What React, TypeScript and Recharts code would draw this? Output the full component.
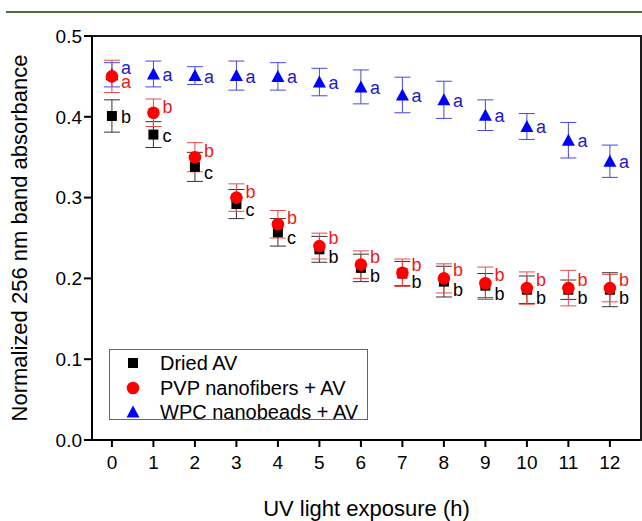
import React from 'react';
import { ScatterChart, Scatter, XAxis, YAxis, ErrorBar, Legend, Label } from 'recharts';

// UV exposure time (h)
const hours = [0, 1, 2, 3, 4, 5, 6, 7, 8, 9, 10, 11, 12];
const yTicks = [0, 0.1, 0.2, 0.3, 0.4, 0.5];
const xDomain = [-0.48, 12.75];

// Dried AV
const driedAV = [0.401, 0.378, 0.338, 0.292, 0.257, 0.236, 0.213, 0.206, 0.196, 0.191, 0.186, 0.186, 0.186];
const driedAVErr = [0.02, 0.016, 0.018, 0.018, 0.017, 0.016, 0.017, 0.015, 0.019, 0.015, 0.017, 0.012, 0.021];
const driedAVLetters = ['b', 'c', 'c', 'c', 'c', 'b', 'b', 'b', 'b', 'b', 'b', 'b', 'b'];

// PVP nanofibers + AV
const pvpAV = [0.45, 0.405, 0.35, 0.3, 0.267, 0.24, 0.217, 0.207, 0.2, 0.194, 0.188, 0.188, 0.188];
const pvpAVErr = [0.02, 0.017, 0.018, 0.017, 0.017, 0.016, 0.017, 0.017, 0.018, 0.02, 0.02, 0.022, 0.017];
const pvpAVLetters = ['a', 'b', 'b', 'b', 'b', 'b', 'b', 'b', 'b', 'b', 'b', 'b', 'b'];

// WPC nanobeads + AV
const wpcAV = [0.452, 0.453, 0.451, 0.451, 0.45, 0.443, 0.437, 0.427, 0.421, 0.402, 0.388, 0.371, 0.345];
const wpcAVErr = [0.015, 0.016, 0.011, 0.018, 0.017, 0.017, 0.021, 0.022, 0.023, 0.019, 0.016, 0.022, 0.02];
const wpcAVLetters = ['a', 'a', 'a', 'a', 'a', 'a', 'a', 'a', 'a', 'a', 'a', 'a', 'a'];

const seriesNames = ['Dried AV', 'PVP nanofibers + AV', 'WPC nanobeads + AV'];

const FONT = '"Liberation Sans", Arial, sans-serif';

const toPoints = (vals: number[], errs: number[], letters: string[]) =>
  hours.map((h, i) => ({ x: h, y: vals[i], err: errs[i], letter: letters[i] }));

type Kind = 'square' | 'circle' | 'triangle';

const drawMarker = (kind: Kind, cx: number, cy: number, fill: string) => {
  if (kind === 'square') return <rect x={cx - 5} y={cy - 5} width={10} height={10} fill={fill} />;
  if (kind === 'circle') return <circle cx={cx} cy={cy} r={6.3} fill={fill} />;
  return <polygon points={`${cx},${cy - 6.5} ${cx - 6.5},${cy + 5.5} ${cx + 6.5},${cy + 5.5}`} fill={fill} />;
};

// marker plus its significance letter
const makeShape = (kind: Kind, fill: string, textFill: string, dy: (x: number) => number) => (props: any) => {
  const { cx, cy, payload } = props;
  if (cx == null || cy == null) return <g />;
  return (
    <g>
      {drawMarker(kind, cx, cy, fill)}
      <text x={cx + 9} y={cy + dy(payload.x)} dominantBaseline="central" fontSize={18} fill={textFill}>
        {payload.letter}
      </text>
    </g>
  );
};

const driedShape = makeShape('square', '#000', '#000', (x) => (x <= 1 ? 1 : x < 5 ? 6 : 8));
const pvpShape = makeShape('circle', '#ff0000', '#f01818', (x) => (x === 0 ? 6 : x < 5 ? -6 : -8));
const wpcShape = makeShape('triangle', '#0000ff', '#1a1acc', (x) => (x === 0 ? -7 : 1));

const legendRows: { kind: Kind; color: string }[] = [
  { kind: 'square', color: '#000' },
  { kind: 'circle', color: '#ff0000' },
  { kind: 'triangle', color: '#0000ff' },
];

const LegendBox = () => (
  <div
    style={{
      boxSizing: 'border-box',
      width: 259,
      height: 71,
      border: '1px solid #666',
      background: '#fff',
      padding: '1px 0 0 0',
      fontFamily: FONT,
      fontSize: 20,
      color: '#000',
    }}
  >
    {seriesNames.map((name, i) => (
      <div key={name} style={{ display: 'flex', alignItems: 'center', height: 24.5 }}>
        <svg width={46} height={24} style={{ flex: 'none' }}>
          {drawMarker(legendRows[i].kind, 23, 12, legendRows[i].color)}
        </svg>
        <span style={{ marginLeft: 4, lineHeight: '24px' }}>{name}</span>
      </div>
    ))}
  </div>
);

const YTitle = (props: any) => {
  const vb = props.viewBox;
  const x = vb.x + 19;
  const y = vb.y + vb.height / 2;
  return (
    <text x={x} y={y} transform={`rotate(-90 ${x} ${y})`} textAnchor="middle" dominantBaseline="central" fontSize={22} fill="#000">
      Normalized 256 nm band absorbance
    </text>
  );
};

const XTitle = (props: any) => {
  const vb = props.viewBox;
  return (
    <text x={vb.x + vb.width / 2} y={vb.y + vb.height - 5} textAnchor="middle" fontSize={22} fill="#000">
      UV light exposure (h)
    </text>
  );
};

export default function App() {
  const dried = toPoints(driedAV, driedAVErr, driedAVLetters);
  const pvp = toPoints(pvpAV, pvpAVErr, pvpAVLetters);
  const wpc = toPoints(wpcAV, wpcAVErr, wpcAVLetters);

  return (
    <div style={{ position: 'absolute', left: 0, top: 0, width: 642, height: 521, background: '#fff', fontFamily: FONT }}>
      <div style={{ position: 'absolute', left: 6, top: 11, width: 636, height: 2, background: '#4b7038' }} />
      <ScatterChart width={642} height={521} margin={{ top: 36, right: 1, bottom: 0, left: 0 }}>
        <XAxis
          type="number"
          dataKey="x"
          domain={xDomain}
          ticks={hours}
          interval={0}
          height={81}
          tickSize={7}
          tickMargin={9}
          tick={{ fill: '#000', fontSize: 19 }}
          axisLine={{ stroke: '#000', strokeWidth: 2 }}
          tickLine={{ stroke: '#000', strokeWidth: 2 }}
        >
          <Label content={XTitle} />
        </XAxis>
        <YAxis
          type="number"
          dataKey="y"
          domain={[0, 0.5]}
          ticks={yTicks}
          interval={0}
          width={92}
          tickSize={8}
          tickFormatter={(v: number) => v.toFixed(1)}
          tick={{ fill: '#000', fontSize: 19 }}
          axisLine={{ stroke: '#000', strokeWidth: 2 }}
          tickLine={{ stroke: '#000', strokeWidth: 2 }}
        >
          <Label content={YTitle} />
        </YAxis>
        <Legend
          layout="vertical"
          align="center"
          verticalAlign="middle"
          content={LegendBox}
          wrapperStyle={{ left: 109, top: 349, width: 259, height: 71 }}
        />
        <Scatter name={seriesNames[2]} data={wpc} shape={wpcShape} isAnimationActive={false}>
          <ErrorBar dataKey="err" direction="y" width={8} stroke="#4646e6" strokeWidth={1} />
        </Scatter>
        <Scatter name={seriesNames[0]} data={dried} shape={driedShape} isAnimationActive={false}>
          <ErrorBar dataKey="err" direction="y" width={8} stroke="#333" strokeWidth={1} />
        </Scatter>
        <Scatter name={seriesNames[1]} data={pvp} shape={pvpShape} isAnimationActive={false}>
          <ErrorBar dataKey="err" direction="y" width={8} stroke="#ea4a4a" strokeWidth={1} />
        </Scatter>
      </ScatterChart>
      {/* top and right edges of the plot frame */}
      <div
        style={{
          position: 'absolute',
          left: 92,
          top: 35,
          width: 550,
          height: 406,
          boxSizing: 'border-box',
          borderTop: '2px solid #1a1a1a',
          borderRight: '2px solid #1a1a1a',
          pointerEvents: 'none',
        }}
      />
    </div>
  );
}
